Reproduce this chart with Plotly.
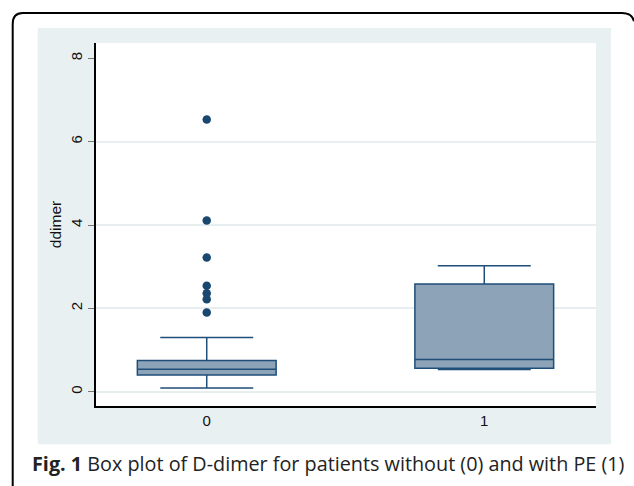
import plotly.graph_objects as go

# Data
groups = [0, 1]
q1 = [0.40, 0.56]
median = [0.54, 0.77]
q3 = [0.75, 2.585]
lower_whisker = [0.09, 0.53]
upper_whisker = [1.30, 3.02]
outlier_group = [0, 0, 0, 0, 0, 0, 0]
outlier_values = [6.53, 4.11, 3.22, 2.54, 2.36, 2.22, 1.90]
y_ticks = [0, 2, 4, 6, 8]
grid_ticks = [0, 2, 4, 6]
caption_bold = "Fig. 1"
caption_rest = " Box plot of D-dimer for patients without (0) and with PE (1)"

NAVY = "#1f4e79"
FILL = "#8ca3b8"
PANEL = "#e9f0f2"

fig = go.Figure()
fig.add_trace(go.Box(
    x=groups, q1=q1, median=median, q3=q3,
    lowerfence=lower_whisker, upperfence=upper_whisker,
    width=0.5, whiskerwidth=0.67,
    fillcolor=FILL, line=dict(color=NAVY, width=1.5),
    boxpoints=False, showlegend=False, hoverinfo="skip",
))
fig.add_trace(go.Scatter(
    x=outlier_group, y=outlier_values, mode="markers",
    marker=dict(color="#1a476f", size=8.5, line=dict(width=0)),
    showlegend=False, yaxis="y2",
))

yrange = [-0.343, 8.368]
fig.update_layout(
    width=634, height=486,
    margin=dict(l=96, r=38, t=43, b=80),
    paper_bgcolor="white",
    plot_bgcolor="rgba(0,0,0,0)",
    font=dict(family="Liberation Sans, Arial, sans-serif", color="#111111"),
    xaxis=dict(
        range=[-0.399, 1.4026], tickvals=groups, ticktext=[str(g) for g in groups],
        showgrid=False, zeroline=False, showline=True, linecolor="black", linewidth=1.5,
        ticks="", tickfont=dict(size=15), ticklabelstandoff=0,
    ),
    yaxis=dict(
        range=yrange, tickvals=y_ticks, ticktext=[str(t) for t in y_ticks],
        showgrid=False, zeroline=False, showline=True, linecolor="black", linewidth=1.5,
        ticks="outside", ticklen=6, tickcolor="#777777", tickwidth=1.2,
        tickangle=-90, tickfont=dict(size=15),
        title=dict(text="ddimer", font=dict(size=15.5), standoff=3),
    ),
    yaxis2=dict(
        range=yrange, overlaying="y", tickvals=grid_ticks, showticklabels=False,
        showgrid=True, gridcolor="#e6eef0", gridwidth=1.5, zeroline=False,
        showline=False, ticks="",
    ),
    shapes=[
        # grey-blue panel
        dict(type="rect", xref="paper", yref="paper", x0=-0.1166, x1=1.03,
             y0=-0.1055, y1=1.0413, fillcolor=PANEL, line=dict(width=0), layer="below"),
        # white plot region
        dict(type="rect", xref="paper", yref="paper", x0=0, x1=1, y0=0, y1=1,
             fillcolor="white", line=dict(width=0), layer="below"),
        # outer rounded frame
        dict(type="path", xref="paper", yref="paper",
             path="M -0.1666,-0.25 L -0.1666,1.052 Q -0.1666,1.0826 -0.1466,1.0826 "
                  "L 1.052,1.0826 Q 1.072,1.0826 1.076,1.06",
             line=dict(color="black", width=2), layer="above"),
    ],
    annotations=[
        dict(xref="paper", yref="paper", x=-0.132, y=-0.158, xanchor="left", yanchor="middle",
             text=f"<b>{caption_bold}</b>{caption_rest}", showarrow=False,
             font=dict(family="Open Sans, sans-serif", size=19.8, color="#222222")),
    ],
)

fig.write_html("out.html", config={"displayModeBar": False},
               post_script="document.body.style.margin='0';")
